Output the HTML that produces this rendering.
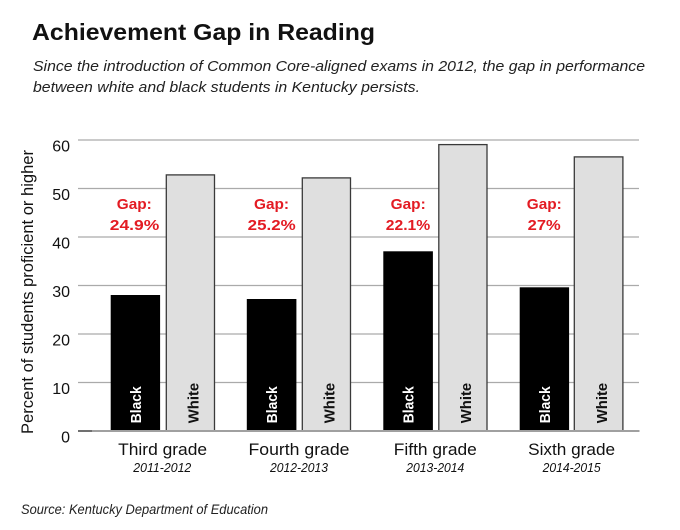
<!DOCTYPE html>
<html>
<head>
<meta charset="utf-8">
<style>
  html, body { margin:0; padding:0; background:#fff; }
  svg { display:block; }
  text { font-family: "Liberation Sans", sans-serif; }
</style>
</head>
<body>
<svg width="680" height="530" viewBox="0 0 680 530" xmlns="http://www.w3.org/2000/svg">
  <rect x="0" y="0" width="680" height="530" fill="#fff"/>

  <!-- Title -->
  <text x="32" y="40" font-size="23" font-weight="bold" fill="#111" textLength="343" lengthAdjust="spacingAndGlyphs">Achievement Gap in Reading</text>
  <text x="33" y="71" font-size="15" font-style="italic" fill="#222" textLength="612" lengthAdjust="spacingAndGlyphs">Since the introduction of Common Core-aligned exams in 2012, the gap in performance</text>
  <text x="33" y="92" font-size="15" font-style="italic" fill="#222" textLength="387" lengthAdjust="spacingAndGlyphs">between white and black students in Kentucky persists.</text>

  <!-- Gridlines -->
  <g stroke="#aaaaaa" stroke-width="1.3">
    <line x1="78" y1="140" x2="639" y2="140"/>
    <line x1="78" y1="188.5" x2="639" y2="188.5"/>
    <line x1="78" y1="237" x2="639" y2="237"/>
    <line x1="78" y1="285.5" x2="639" y2="285.5"/>
    <line x1="78" y1="334" x2="639" y2="334"/>
    <line x1="78" y1="382.5" x2="639" y2="382.5"/>
  </g>

  <!-- Y tick labels -->
  <g font-size="16" fill="#111" text-anchor="end">
    <text x="70" y="151.5">60</text>
    <text x="70" y="200">50</text>
    <text x="70" y="248.5">40</text>
    <text x="70" y="297">30</text>
    <text x="70" y="345.5">20</text>
    <text x="70" y="394">10</text>
    <text x="70" y="442.5">0</text>
  </g>

  <!-- Y axis title -->
  <text transform="translate(33,292) rotate(-90)" text-anchor="middle" font-size="16.5" fill="#111" textLength="284" lengthAdjust="spacingAndGlyphs">Percent of students proficient or higher</text>

  <!-- Bars: Group 1 -->
  <rect x="110.7" y="295" width="49.4" height="136" fill="#000"/>
  <rect x="166.3" y="174.9" width="48.2" height="256" fill="#dfdfdf" stroke="#3a3a3a" stroke-width="1.3"/>
  <!-- Group 2 -->
  <rect x="246.8" y="299" width="49.6" height="132" fill="#000"/>
  <rect x="302.3" y="177.9" width="48.2" height="253" fill="#dfdfdf" stroke="#3a3a3a" stroke-width="1.3"/>
  <!-- Group 3 -->
  <rect x="383.3" y="251.3" width="49.6" height="179.7" fill="#000"/>
  <rect x="438.8" y="144.6" width="48.2" height="286.3" fill="#dfdfdf" stroke="#3a3a3a" stroke-width="1.3"/>
  <!-- Group 4 -->
  <rect x="519.7" y="287.3" width="49.4" height="143.7" fill="#000"/>
  <rect x="574.3" y="156.9" width="48.6" height="274" fill="#dfdfdf" stroke="#3a3a3a" stroke-width="1.3"/>

  <!-- Axis line -->
  <line x1="78" y1="431" x2="639.5" y2="431" stroke="#a0a0a0" stroke-width="2"/>
  <line x1="78" y1="431" x2="92" y2="431" stroke="#707070" stroke-width="2"/>

  <!-- Bar labels -->
  <g font-size="15" font-weight="bold">
    <text transform="translate(140.8,423.3) rotate(-90)" fill="#fff" textLength="37" lengthAdjust="spacingAndGlyphs">Black</text>
    <text transform="translate(198.5,423.3) rotate(-90)" fill="#111" textLength="40.5" lengthAdjust="spacingAndGlyphs">White</text>
    <text transform="translate(277.1,423.3) rotate(-90)" fill="#fff" textLength="37" lengthAdjust="spacingAndGlyphs">Black</text>
    <text transform="translate(334.6,423.3) rotate(-90)" fill="#111" textLength="40.5" lengthAdjust="spacingAndGlyphs">White</text>
    <text transform="translate(413.6,423.3) rotate(-90)" fill="#fff" textLength="37" lengthAdjust="spacingAndGlyphs">Black</text>
    <text transform="translate(471,423.3) rotate(-90)" fill="#111" textLength="40.5" lengthAdjust="spacingAndGlyphs">White</text>
    <text transform="translate(549.9,423.3) rotate(-90)" fill="#fff" textLength="37" lengthAdjust="spacingAndGlyphs">Black</text>
    <text transform="translate(607.1,423.3) rotate(-90)" fill="#111" textLength="40.5" lengthAdjust="spacingAndGlyphs">White</text>
  </g>

  <!-- Gap labels -->
  <g font-size="15" font-weight="bold" fill="#e31b23" text-anchor="middle">
    <text x="134.3" y="209" textLength="35" lengthAdjust="spacingAndGlyphs">Gap:</text>
    <text x="134.5" y="230" textLength="49.5" lengthAdjust="spacingAndGlyphs">24.9%</text>
    <text x="271.5" y="209" textLength="35" lengthAdjust="spacingAndGlyphs">Gap:</text>
    <text x="271.7" y="230" textLength="48" lengthAdjust="spacingAndGlyphs">25.2%</text>
    <text x="408.2" y="209" textLength="35" lengthAdjust="spacingAndGlyphs">Gap:</text>
    <text x="408" y="230" textLength="44.5" lengthAdjust="spacingAndGlyphs">22.1%</text>
    <text x="544.3" y="209" textLength="35" lengthAdjust="spacingAndGlyphs">Gap:</text>
    <text x="544.2" y="230" textLength="33" lengthAdjust="spacingAndGlyphs">27%</text>
  </g>

  <!-- Category labels -->
  <g font-size="17" fill="#111" text-anchor="middle">
    <text x="162.6" y="455" textLength="89" lengthAdjust="spacingAndGlyphs">Third grade</text>
    <text x="299" y="455" textLength="101" lengthAdjust="spacingAndGlyphs">Fourth grade</text>
    <text x="435.3" y="455" textLength="83" lengthAdjust="spacingAndGlyphs">Fifth grade</text>
    <text x="571.6" y="455" textLength="87" lengthAdjust="spacingAndGlyphs">Sixth grade</text>
  </g>
  <g font-size="12.5" font-style="italic" fill="#111" text-anchor="middle">
    <text x="162.3" y="472" textLength="58" lengthAdjust="spacingAndGlyphs">2011-2012</text>
    <text x="299" y="472" textLength="58" lengthAdjust="spacingAndGlyphs">2012-2013</text>
    <text x="435.3" y="472" textLength="58" lengthAdjust="spacingAndGlyphs">2013-2014</text>
    <text x="571.6" y="472" textLength="58" lengthAdjust="spacingAndGlyphs">2014-2015</text>
  </g>

  <!-- Source -->
  <text x="21" y="514" font-size="14" font-style="italic" fill="#222" textLength="247" lengthAdjust="spacingAndGlyphs">Source: Kentucky Department of Education</text>
</svg>
</body>
</html>
